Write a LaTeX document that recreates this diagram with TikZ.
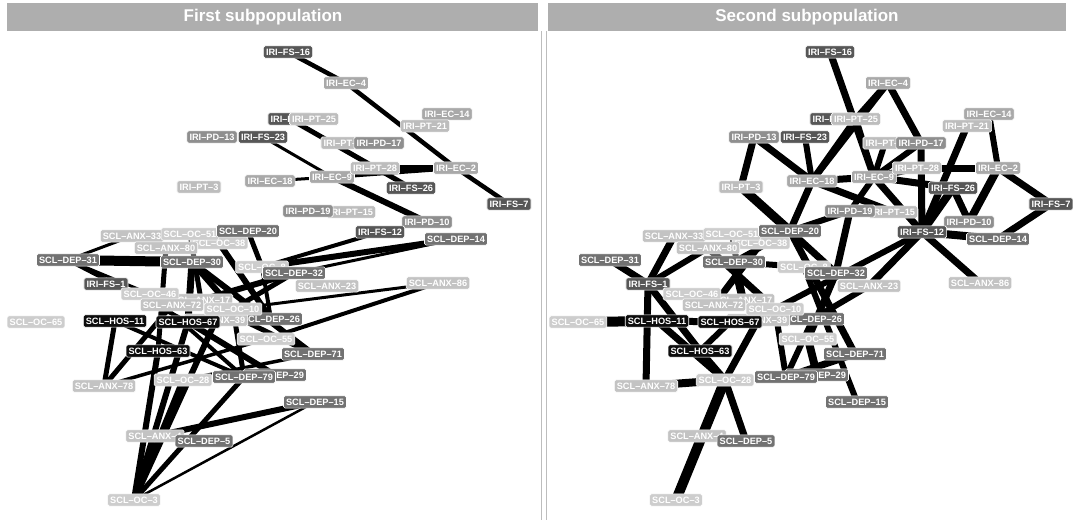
\documentclass[tikz,border=0pt]{standalone}
\usepackage{fontspec}
\setmainfont{Liberation Sans}
\pgfdeclarelayer{bglayer}
\pgfdeclarelayer{edgelayer}
\pgfsetlayers{bglayer,edgelayer,main}
\definecolor{cStrip}{HTML}{AEAEAE}
\definecolor{cSep}{HTML}{BDBDBD}
\definecolor{cFS}{HTML}{575757}
\definecolor{cPD}{HTML}{8F8F8F}
\definecolor{cEC}{HTML}{A9A9A9}
\definecolor{cPT}{HTML}{BDBDBD}
\definecolor{cDEP}{HTML}{727272}
\definecolor{cANX}{HTML}{C3C3C3}
\definecolor{cOC}{HTML}{CDCDCD}
\definecolor{cHOS}{HTML}{0D0D0D}
\newcommand{\labfont}{\bfseries\fontsize{9.2}{9.5}\selectfont}
\tikzset{
  lab/.style={rounded corners=1.6pt, draw=white, line width=0.6pt, text=white,
    font=\labfont, inner xsep=2.6pt, inner ysep=2.8pt, text height=6.6pt, text depth=0pt},
  fs/.style={lab, fill=cFS}, pd/.style={lab, fill=cPD}, ec/.style={lab, fill=cEC},
  pt/.style={lab, fill=cPT}, dep/.style={lab, fill=cDEP}, anx/.style={lab, fill=cANX},
  oc/.style={lab, fill=cOC}, hos/.style={lab, fill=cHOS},
  ew/.style={draw=black, line width=#1},
  striptitle/.style={text=white, font=\bfseries\fontsize{17}{18}\selectfont}
}
\newcommand{\placenodes}{%
  \node[fs]  (FSx)   at (290,119) {IRI–FS–5};
  \node[pt]  (PTq)   at (343,143) {IRI–PT–1};
  \node[oc]  (OC8)   at (262,267) {SCL–OC–8};
  \node[anx] (ANX17) at (201,300) {SCL–ANX–17};
  \node[dep] (DEP26) at (271,319) {SCL–DEP–26};
  \node[anx] (ANX39) at (216,320) {SCL–ANX–39};
  \node[dep] (DEP29) at (275,375) {SCL–DEP–29};
  \node[anx] (ANXq)  at (155,436) {SCL–ANX–4};
  \node[pt]  (PT15)  at (351,212) {IRI–PT–15};
  \node[oc]  (OC38)  at (219,243) {SCL–OC–38};
  \node[anx] (ANX33) at (132,236) {SCL–ANX–33};
  \node[fs]  (FS16)  at (288,52)  {IRI–FS–16};
  \node[ec]  (EC4)   at (346,83)  {IRI–EC–4};
  \node[ec]  (EC14)  at (447,114) {IRI–EC–14};
  \node[pt]  (PT21)  at (425,126) {IRI–PT–21};
  \node[pt]  (PT25)  at (314,119) {IRI–PT–25};
  \node[pd]  (PD13)  at (212,137) {IRI–PD–13};
  \node[fs]  (FS23)  at (263,137) {IRI–FS–23};
  \node[pd]  (PD17)  at (379,143) {IRI–PD–17};
  \node[ec]  (EC18)  at (270,181) {IRI–EC–18};
  \node[ec]  (EC9)   at (332,177) {IRI–EC–9};
  \node[pt]  (PT28)  at (375,168) {IRI–PT–28};
  \node[ec]  (EC2)   at (456,168) {IRI–EC–2};
  \node[fs]  (FS26)  at (411,188) {IRI–FS–26};
  \node[pt]  (PT3)   at (199,187) {IRI–PT–3};
  \node[fs]  (FS7)   at (509,204) {IRI–FS–7};
  \node[pd]  (PD19)  at (308,211) {IRI–PD–19};
  \node[pd]  (PD10)  at (427,222) {IRI–PD–10};
  \node[fs]  (FS12)  at (380,232) {IRI–FS–12};
  \node[dep] (DEP14) at (456,239) {SCL–DEP–14};
  \node[oc]  (OC51)  at (190,234) {SCL–OC–51};
  \node[dep] (DEP20) at (248,231) {SCL–DEP–20};
  \node[anx] (ANX80) at (166,248) {SCL–ANX–80};
  \node[dep] (DEP31) at (68,260)  {SCL–DEP–31};
  \node[dep] (DEP30) at (192,262) {SCL–DEP–30};
  \node[dep] (DEP32) at (294,273) {SCL–DEP–32};
  \node[anx] (ANX23) at (327,286) {SCL–ANX–23};
  \node[anx] (ANX86) at (438,283) {SCL–ANX–86};
  \node[fs]  (FS1)   at (106,284) {IRI–FS–1};
  \node[oc]  (OC46)  at (150,294) {SCL–OC–46};
  \node[anx] (ANX72) at (172,305) {SCL–ANX–72};
  \node[oc]  (OC10)  at (233,309) {SCL–OC–10};
  \node[oc]  (OC65)  at (36,322)  {SCL–OC–65};
  \node[hos] (HOS11) at (115,321) {SCL–HOS–11};
  \node[hos] (HOS67) at (188,322) {SCL–HOS–67};
  \node[oc]  (OC55)  at (266,339) {SCL–OC–55};
  \node[hos] (HOS63) at (158,351) {SCL–HOS–63};
  \node[dep] (DEP71) at (313,354) {SCL–DEP–71};
  \node[anx] (ANX78) at (104,386) {SCL–ANX–78};
  \node[oc]  (OC28)  at (183,380) {SCL–OC–28};
  \node[dep] (DEP79) at (244,377) {SCL–DEP–79};
  \node[dep] (DEP15) at (315,402) {SCL–DEP–15};
  \node[dep] (DEP5)  at (204,441) {SCL–DEP–5};
  \node[oc]  (OC3)   at (134,500) {SCL–OC–3};
}
\newcommand{\ed}[3]{\draw[ew=#3pt] (#1.center) -- (#2.center);}
\begin{document}
\begin{tikzpicture}[x=1pt,y=-1pt]
\useasboundingbox (0,0) rectangle (1073,520);
\begin{pgfonlayer}{bglayer}
  \fill[white] (0,0) rectangle (1073,520);
\end{pgfonlayer}
% strips
\fill[cStrip] (7,3) rectangle (538,31);
\fill[cStrip] (548,3) rectangle (1066,31);
\node[striptitle] (t1) at (263,17) {First subpopulation};
\node[striptitle] (t2) at (807,17) {Second subpopulation};
\draw[cSep, line width=1pt] (541.5,31) -- (541.5,520);
\draw[cSep, line width=1pt] (546.5,31) -- (546.5,520);
% ---------- first panel
\begin{scope}[name prefix=L-]
\placenodes
\begin{pgfonlayer}{edgelayer}
\ed{FS16}{EC4}{4.5}
\ed{EC4}{EC2}{4.5}
\ed{EC2}{FS7}{4.5}
\ed{FSx}{FS26}{5}
\ed{FS23}{EC9}{3}
\ed{EC18}{EC9}{3}
\ed{EC9}{EC2}{4}
\ed{PT28}{EC2}{6}
\ed{EC9}{PD10}{6}
\ed{FS12}{OC8}{4}
\ed{DEP14}{OC8}{6}
\ed{DEP14}{DEP32}{3}
\ed{ANX86}{OC10}{3}
\ed{ANX86}{OC55}{4}
\ed{DEP31}{DEP30}{10}
\ed{DEP31}{ANX33}{3}
\ed{DEP31}{HOS67}{4}
\ed{DEP31}{OC46}{3}
\ed{DEP20}{OC8}{5}
\ed{DEP30}{HOS67}{7}
\ed{DEP30}{OC10}{6}
\ed{OC38}{DEP26}{6}
\ed{OC51}{ANX17}{5}
\ed{DEP32}{ANX17}{6}
\ed{DEP32}{OC10}{5}
\ed{OC8}{DEP26}{4}
\ed{DEP30}{DEP71}{6}
\ed{ANX80}{HOS63}{5}
\ed{OC46}{DEP79}{4}
\ed{HOS67}{DEP29}{6}
\ed{ANX17}{DEP71}{5}
\ed{OC10}{DEP79}{5}
\ed{HOS11}{ANX78}{5}
\ed{ANX72}{ANX78}{5}
\ed{ANX78}{OC55}{3.5}
\ed{OC28}{DEP71}{3.5}
\ed{HOS11}{DEP79}{4}
\ed{OC3}{HOS63}{6}
\ed{OC3}{HOS67}{6}
\ed{OC3}{ANX39}{6}
\ed{OC3}{OC28}{6}
\ed{OC3}{DEP79}{5}
\ed{OC3}{DEP15}{2.5}
\ed{ANXq}{DEP15}{6}
\end{pgfonlayer}
\end{scope}
% ---------- second panel
\begin{scope}[name prefix=R-, xshift=542pt]
\placenodes
\begin{pgfonlayer}{edgelayer}
\ed{FS16}{EC9}{7}
\ed{EC4}{PT25}{7}
\ed{EC4}{EC18}{6}
\ed{EC4}{PD17}{7}
\ed{PD13}{PT3}{7}
\ed{PD13}{EC18}{7}
\ed{FS23}{EC18}{6}
\ed{PT25}{EC18}{7}
\ed{PT25}{EC9}{6}
\ed{PTq}{EC9}{6}
\ed{EC9}{PD17}{6}
\ed{PT3}{DEP20}{9}
\ed{EC18}{DEP20}{7}
\ed{EC18}{EC9}{7}
\ed{EC18}{PT15}{7}
\ed{EC9}{PT28}{7}
\ed{EC9}{FS26}{7}
\ed{EC9}{FS12}{7}
\ed{PD19}{EC9}{6}
\ed{PD19}{DEP32}{7}
\ed{PD19}{DEP20}{6}
\ed{PT21}{FS12}{7}
\ed{EC14}{EC2}{6}
\ed{EC2}{PD10}{8}
\ed{EC2}{FS7}{7}
\ed{FS7}{DEP14}{7}
\ed{PT28}{EC2}{7}
\ed{PD17}{FS12}{7}
\ed{FS26}{FS12}{8}
\ed{FS26}{PD10}{7}
\ed{FS12}{DEP14}{8}
\ed{FS12}{ANX86}{7}
\ed{FS12}{ANX23}{7}
\ed{FS12}{OC10}{6}
\ed{DEP31}{FS1}{7}
\ed{ANX33}{FS1}{7}
\ed{FS1}{ANX80}{6}
\ed{FS1}{ANX78}{7}
\ed{FS1}{HOS63}{7}
\ed{OC65}{HOS11}{10}
\ed{HOS11}{HOS67}{7}
\ed{HOS11}{OC28}{7}
\ed{ANX39}{OC28}{7}
\ed{HOS63}{HOS67}{6}
\ed{HOS63}{OC28}{7}
\ed{OC28}{ANX78}{8}
\ed{OC28}{OC3}{10}
\ed{OC28}{DEP5}{7}
\ed{OC10}{DEP79}{6}
\ed{DEP20}{DEP71}{7}
\ed{ANX23}{DEP26}{6}
\ed{OC8}{DEP15}{6}
\ed{DEP32}{OC55}{7}
\ed{DEP79}{DEP71}{7}
\ed{OC55}{DEP29}{8}
\ed{DEP26}{DEP79}{6}
\ed{DEP20}{DEP32}{7}
\ed{DEP20}{DEP30}{6}
\ed{DEP30}{ANX17}{8}
\ed{ANX80}{OC10}{7}
\ed{OC38}{ANX72}{7}
\ed{OC51}{ANX17}{6}
\ed{DEP30}{OC8}{6}
\end{pgfonlayer}
\end{scope}
\end{tikzpicture}
\end{document}
